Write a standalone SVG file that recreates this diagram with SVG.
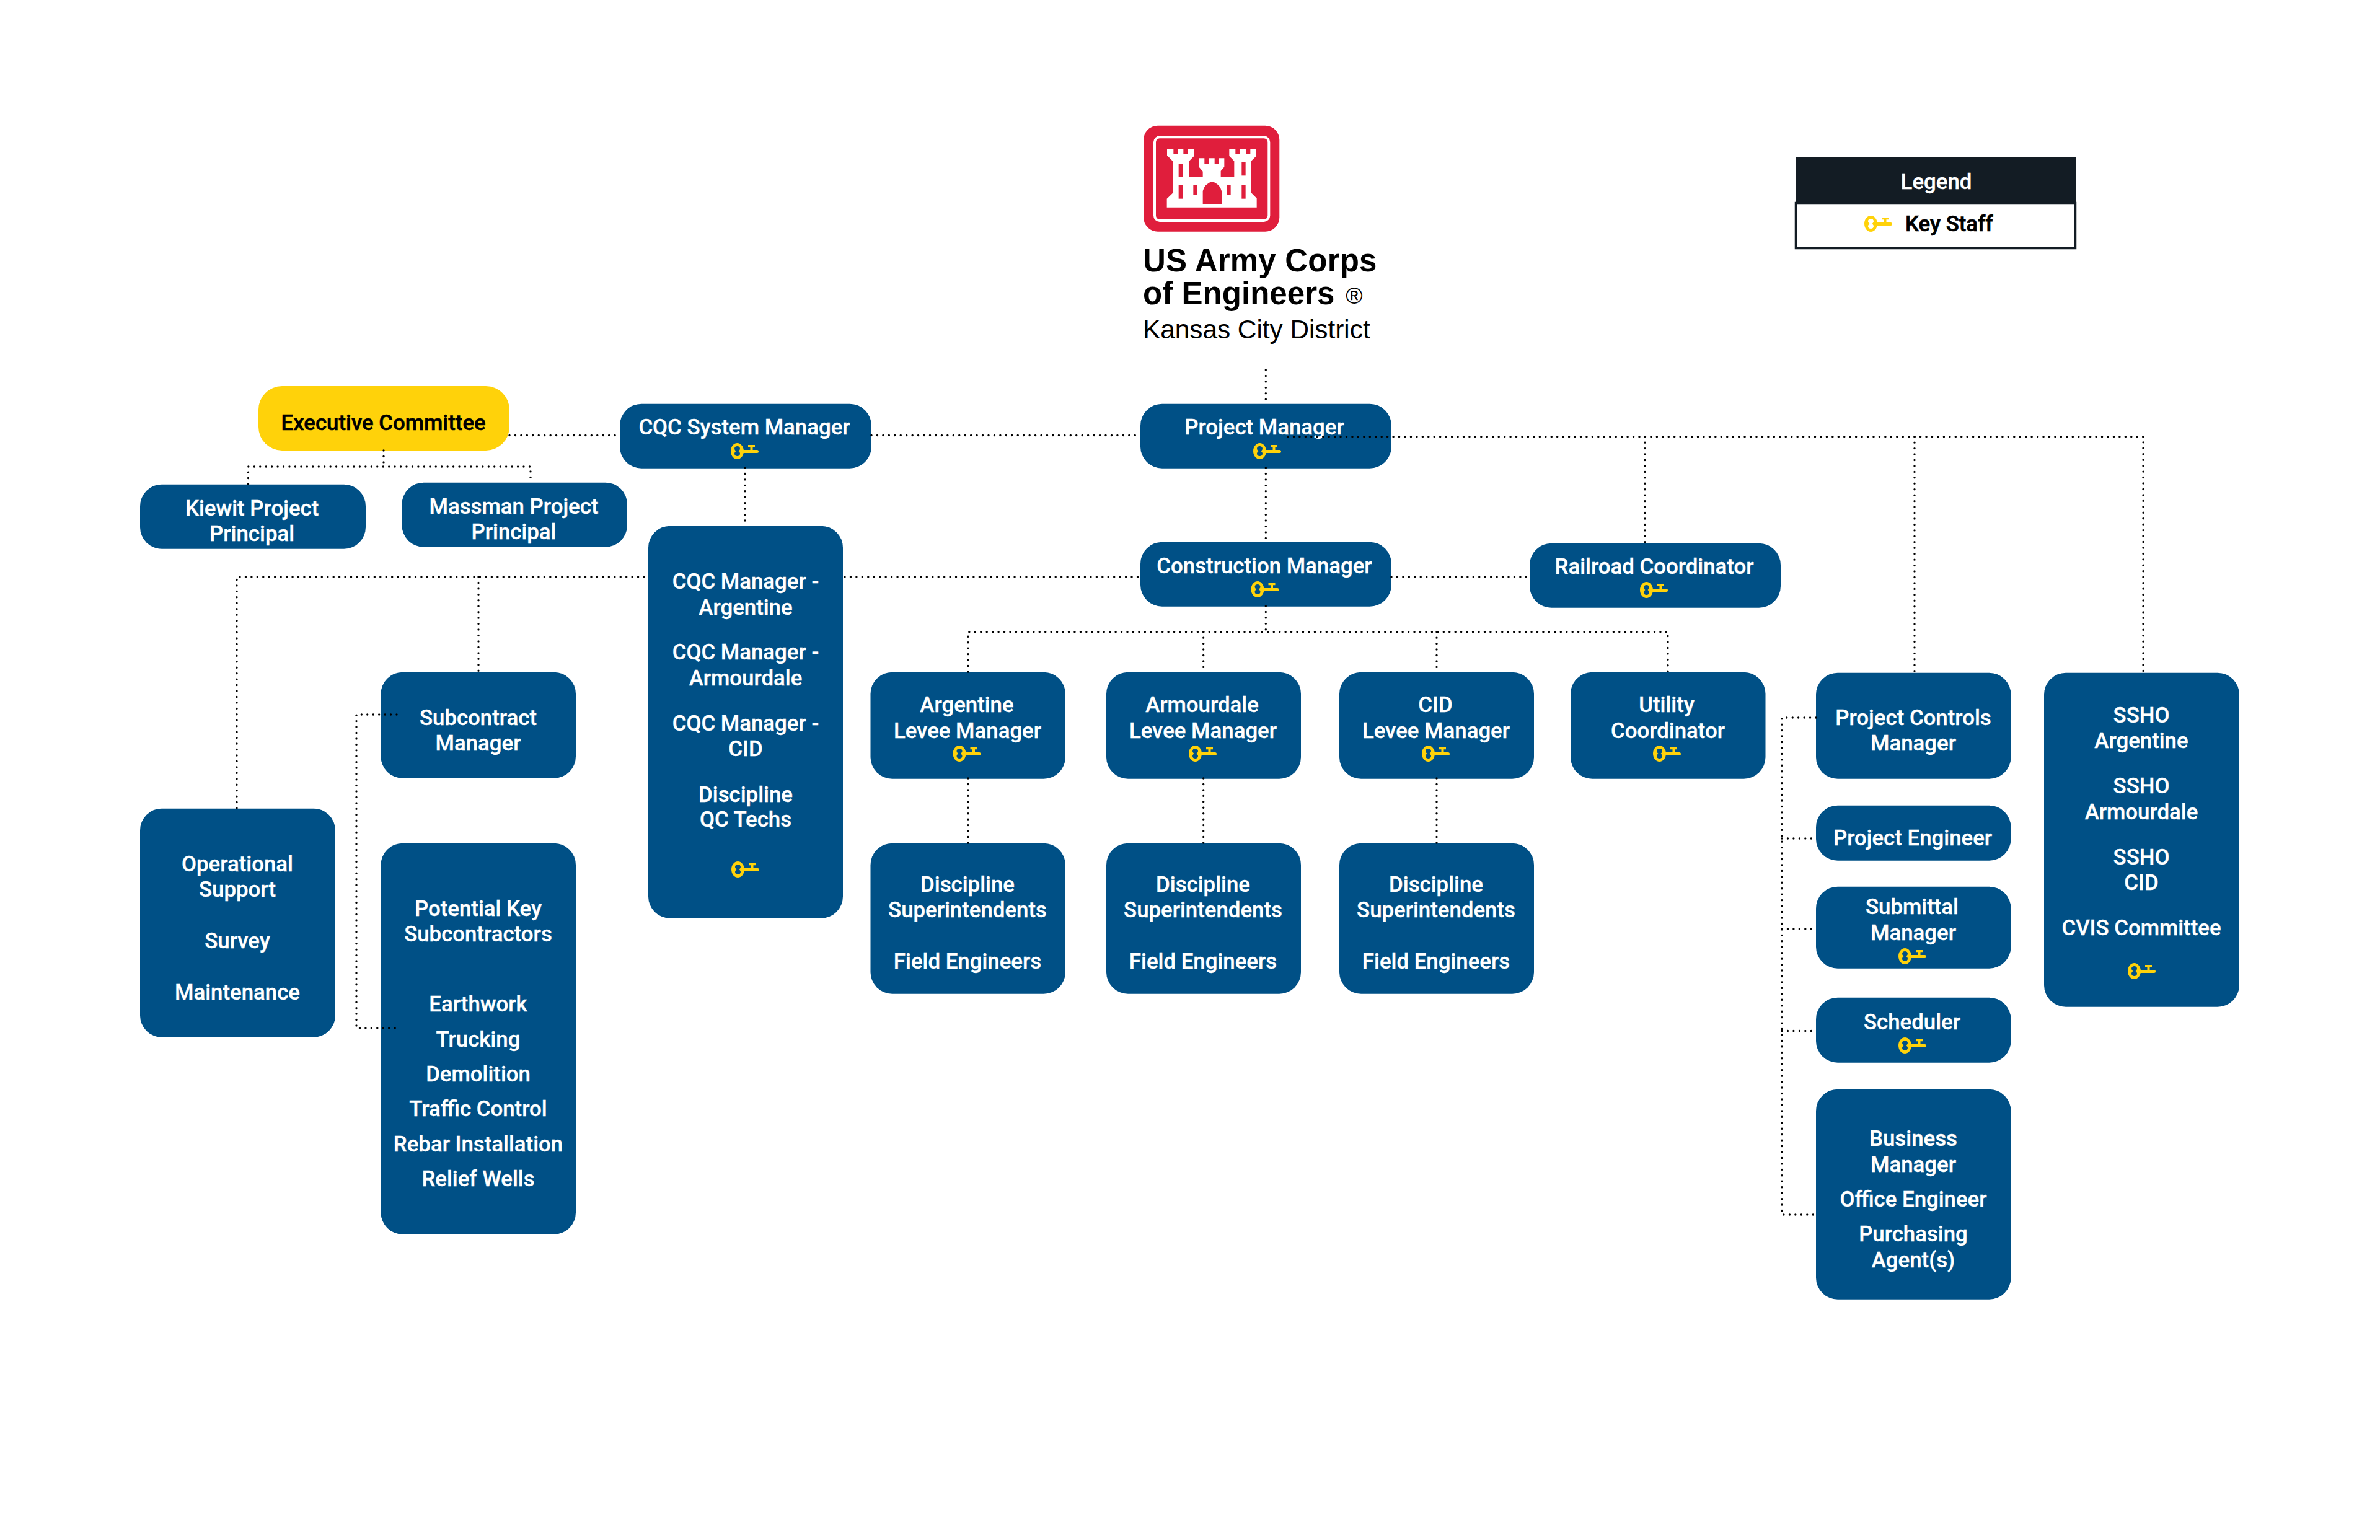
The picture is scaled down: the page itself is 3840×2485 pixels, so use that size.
<svg xmlns="http://www.w3.org/2000/svg" width="3840" height="2485" viewBox="0 0 3840 2485">
<style>
.b{fill:#005086;transform:translateY(.7px)}
.y{fill:#ffd20a}
.t{font-family:Roboto,"Liberation Sans",sans-serif;font-weight:500;font-size:34.800px;fill:#fff;stroke:#fff;stroke-width:.35;text-anchor:middle;transform:translateY(1.5px)}
.d{fill:none;stroke:#000;stroke-width:3.4;stroke-linecap:round;stroke-dasharray:0 9.45}
.l{font-family:"Liberation Sans",Arial,sans-serif;fill:#000}
.lb{font-weight:700;font-size:51px}
.n{fill:#000;stroke:#000}
.s{transform:none}
</style>
<defs>
<g id="key">
<path class="y" fill-rule="evenodd" d="M10.500 0C16.300 0 21 6 21 13S16.300 26 10.500 26S0 20 0 13S4.700 0 10.500 0ZM10.500 5C8 5 6 6.500 6 9C6 10.800 7.500 12 8.500 13C7.500 14 6 15.200 6 17C6 19.500 8 21 10.500 21C13 21 15 19.500 15 17C15 15.200 13.500 14 12.500 13C13.500 12 15 10.800 15 9C15 6.500 13 5 10.500 5Z"/>
<path class="y" d="M20 11H42.500A2.500 2.500 0 0 1 42.500 16H20ZM28 3H39V6.300H35.500V11.500H31.500V6.300H28Z"/>
</g>
</defs>
<rect width="3840" height="2485" fill="#fff"/>

<g id="logo">
<rect x="1845" y="202.700" width="219.300" height="171" rx="23" fill="#e01e3c"/>
<rect x="1863" y="221.300" width="184.300" height="134.700" rx="8" fill="none" stroke="#fff" stroke-width="4"/>
<g transform="translate(1780 180) scale(.33333)">
<path fill="#fff" d="M309 180H340V205H360V180H388V205H410V180H440V215L416 240V318H482V290L463 268V226H490V252H510V226H539V252H559V226H586V268L569 288V318H634V240L610 215V180H640V207H660V180H690V207H712V180H741V215L716 240V393L743 420V464H308V422L336 395V240L309 212Z"/>
<g fill="#e01e3c">
<rect x="365" y="253" width="19" height="65"/>
<rect x="365" y="357" width="19" height="65"/>
<rect x="436" y="357" width="19" height="45"/>
<rect x="598" y="357" width="19" height="45"/>
<rect x="670" y="245" width="19" height="65"/>
<rect x="670" y="357" width="19" height="65"/>
<path d="M482 447V385Q490 350 527 338Q565 350 573 385V447Z"/>
</g>
</g>
<text class="l lb" x="1844" y="438" letter-spacing=".2">US Army Corps</text>
<text class="l lb" x="1844" y="491" letter-spacing=".05">of Engineers</text>
<text class="l" x="2185" y="490" font-size="37" text-anchor="middle">®</text>
<text class="l" x="1844" y="545.700" font-size="42.300">Kansas City District</text>
</g>

<g id="legend">
<rect x="2897" y="254" width="452" height="75" fill="#131c24"/>
<rect x="2897.500" y="327.500" width="451" height="73" fill="#fff" stroke="#131c24" stroke-width="3.500"/>
<text class="t s" x="3124" y="305">Legend</text>
<use href="#key" x="3008" y="348"/>
<text class="t n s" x="3074" y="373" style="text-anchor:start;stroke-width:.7">Key Staff</text>
</g>

<g id="executive-committee">
<rect class="y" x="417" y="623" width="405" height="104" rx="38"/>
<text class="t n" x="618.600" y="692" style="stroke-width:.6">Executive Committee</text>
</g>
<g id="kiewit">
<rect class="b" x="226" y="781" width="364" height="104" rx="35"/>
<text class="t" x="406.600" y="830">Kiewit Project</text>
<text class="t" x="406.600" y="871.700">Principal</text>
</g>
<g id="massman">
<rect class="b" x="648.500" y="778" width="363.500" height="104" rx="35"/>
<text class="t" x="829" y="827">Massman Project</text>
<text class="t" x="829" y="868">Principal</text>
</g>
<g id="cqc-system-manager">
<rect class="b" x="1000" y="651" width="406" height="104" rx="35"/>
<text class="t" x="1201" y="699">CQC System Manager</text>
<use href="#key" x="1179" y="715"/>
</g>
<g id="cqc-managers">
<rect class="b" x="1046" y="848" width="314" height="633" rx="35"/>
<text class="t" x="1203" y="948.500">CQC Manager -</text>
<text class="t" x="1203" y="990">Argentine</text>
<text class="t" x="1203" y="1062">CQC Manager -</text>
<text class="t" x="1203" y="1104">Armourdale</text>
<text class="t" x="1203" y="1177">CQC Manager -</text>
<text class="t" x="1203" y="1218">CID</text>
<text class="t" x="1203" y="1292">Discipline</text>
<text class="t" x="1203" y="1332.500">QC Techs</text>
<use href="#key" x="1180" y="1390"/>
</g>
<g id="project-manager">
<rect class="b" x="1840" y="651" width="405" height="104" rx="35"/>
<text class="t" x="2040" y="699">Project Manager</text>
<use href="#key" x="2022" y="715"/>
</g>
<g id="construction-manager">
<rect class="b" x="1840" y="874" width="405" height="104" rx="35"/>
<text class="t" x="2040" y="923">Construction Manager</text>
<use href="#key" x="2018.500" y="938"/>
</g>
<g id="railroad-coordinator">
<rect class="b" x="2468" y="876" width="405" height="104" rx="35"/>
<text class="t" x="2669" y="924">Railroad Coordinator</text>
<use href="#key" x="2646" y="939"/>
</g>
<g id="operational-support">
<rect class="b" x="226" y="1304" width="315" height="369" rx="35"/>
<text class="t" x="383" y="1404">Operational</text>
<text class="t" x="383" y="1445.500">Support</text>
<text class="t" x="383" y="1528.500">Survey</text>
<text class="t" x="383" y="1611.500">Maintenance</text>
</g>
<g id="subcontract-manager">
<rect class="b" x="614.500" y="1084" width="314.500" height="171" rx="35"/>
<text class="t" x="771.500" y="1168">Subcontract</text>
<text class="t" x="771.500" y="1209">Manager</text>
</g>
<g id="potential-key-subcontractors">
<rect class="b" x="614.500" y="1360" width="314.500" height="631" rx="35"/>
<text class="t" x="771.500" y="1476">Potential Key</text>
<text class="t" x="771.500" y="1517">Subcontractors</text>
<text class="t" x="771.500" y="1630">Earthwork</text>
<text class="t" x="771.500" y="1687">Trucking</text>
<text class="t" x="771.500" y="1743">Demolition</text>
<text class="t" x="771.500" y="1799">Traffic Control</text>
<text class="t" x="771.500" y="1856">Rebar Installation</text>
<text class="t" x="771.500" y="1912">Relief Wells</text>
</g>
<g id="argentine-levee-manager">
<rect class="b" x="1404.500" y="1084" width="314.500" height="172" rx="35"/>
<text class="t" x="1560" y="1147">Argentine</text>
<text class="t" x="1561" y="1189">Levee Manager</text>
<use href="#key" x="1537.500" y="1203"/>
</g>
<g id="armourdale-levee-manager">
<rect class="b" x="1785" y="1084" width="314" height="172" rx="35"/>
<text class="t" x="1939.500" y="1147">Armourdale</text>
<text class="t" x="1941" y="1189">Levee Manager</text>
<use href="#key" x="1918" y="1203"/>
</g>
<g id="cid-levee-manager">
<rect class="b" x="2161" y="1084" width="314" height="172" rx="35"/>
<text class="t" x="2316" y="1147">CID</text>
<text class="t" x="2317" y="1189">Levee Manager</text>
<use href="#key" x="2294" y="1203"/>
</g>
<g id="utility-coordinator">
<rect class="b" x="2534" y="1084" width="314.500" height="172" rx="35"/>
<text class="t" x="2689" y="1147">Utility</text>
<text class="t" x="2691" y="1189">Coordinator</text>
<use href="#key" x="2667" y="1203"/>
</g>
<g id="argentine-discipline">
<rect class="b" x="1404.500" y="1360" width="314.500" height="243" rx="35"/>
<text class="t" x="1561" y="1437">Discipline</text>
<text class="t" x="1561" y="1478">Superintendents</text>
<text class="t" x="1561" y="1561">Field Engineers</text>
</g>
<g id="armourdale-discipline">
<rect class="b" x="1785" y="1360" width="314" height="243" rx="35"/>
<text class="t" x="1941" y="1437">Discipline</text>
<text class="t" x="1941" y="1478">Superintendents</text>
<text class="t" x="1941" y="1561">Field Engineers</text>
</g>
<g id="cid-discipline">
<rect class="b" x="2161" y="1360" width="314" height="243" rx="35"/>
<text class="t" x="2317" y="1437">Discipline</text>
<text class="t" x="2317" y="1478">Superintendents</text>
<text class="t" x="2317" y="1561">Field Engineers</text>
</g>
<g id="project-controls-manager">
<rect class="b" x="2930" y="1085" width="314.500" height="171" rx="35"/>
<text class="t" x="3087" y="1168">Project Controls</text>
<text class="t" x="3087" y="1209.500">Manager</text>
</g>
<g id="project-engineer">
<rect class="b" x="2930" y="1299" width="314.500" height="89" rx="35"/>
<text class="t" x="3086" y="1362">Project Engineer</text>
</g>
<g id="submittal-manager">
<rect class="b" x="2930" y="1430" width="314.500" height="132" rx="35"/>
<text class="t" x="3085" y="1473">Submittal</text>
<text class="t" x="3087" y="1515">Manager</text>
<use href="#key" x="3063" y="1530"/>
</g>
<g id="scheduler">
<rect class="b" x="2930" y="1609" width="314.500" height="105" rx="35"/>
<text class="t" x="3085" y="1659.500">Scheduler</text>
<use href="#key" x="3063" y="1674"/>
</g>
<g id="business-manager">
<rect class="b" x="2930" y="1757" width="314.500" height="339" rx="35"/>
<text class="t" x="3087" y="1847">Business</text>
<text class="t" x="3087" y="1889">Manager</text>
<text class="t" x="3087" y="1945">Office Engineer</text>
<text class="t" x="3087" y="2001">Purchasing</text>
<text class="t" x="3087" y="2043">Agent(s)</text>
</g>
<g id="ssho">
<rect class="b" x="3298" y="1085" width="315" height="539" rx="35"/>
<text class="t" x="3455" y="1164">SSHO</text>
<text class="t" x="3455" y="1205">Argentine</text>
<text class="t" x="3455" y="1278">SSHO</text>
<text class="t" x="3455" y="1320">Armourdale</text>
<text class="t" x="3455" y="1393">SSHO</text>
<text class="t" x="3455" y="1434">CID</text>
<text class="t" x="3455" y="1507">CVIS Committee</text>
<use href="#key" x="3433" y="1554"/>
</g>

<g id="connectors">
<path class="d" d="M2042.300 597V651"/>
<path class="d" d="M2042.300 755V874"/>
<path class="d" d="M2042.300 978V1019.700"/>
<path class="d" d="M822 702.500H1000"/>
<path class="d" d="M1406 702.500H1840"/>
<path class="d" d="M2078 704.700H3458V1085"/>
<path class="d" d="M2654 704.700V876"/>
<path class="d" d="M3089 704.700V1085"/>
<path class="d" d="M619 727V753"/>
<path class="d" d="M400.500 781V753H856V778"/>
<path class="d" d="M1202 755V848"/>
<path class="d" d="M382 1304V931H1046"/>
<path class="d" d="M772 931V1084"/>
<path class="d" d="M1363 931H1840"/>
<path class="d" d="M2245 931H2468"/>
<path class="d" d="M1562 1084V1019.700H2691V1084"/>
<path class="d" d="M1941.700 1019.700V1084"/>
<path class="d" d="M2318 1019.700V1084"/>
<path class="d" d="M1562 1256V1360"/>
<path class="d" d="M1941.700 1256V1360"/>
<path class="d" d="M2318 1256V1360"/>
<path class="d" d="M640 1153H575V1659H640"/>
<path class="d" d="M2930 1158H2875V1960H2933"/>
<path class="d" d="M2875 1353H2930"/>
<path class="d" d="M2875 1499H2930"/>
<path class="d" d="M2875 1663.500H2930"/>
</g>
</svg>
